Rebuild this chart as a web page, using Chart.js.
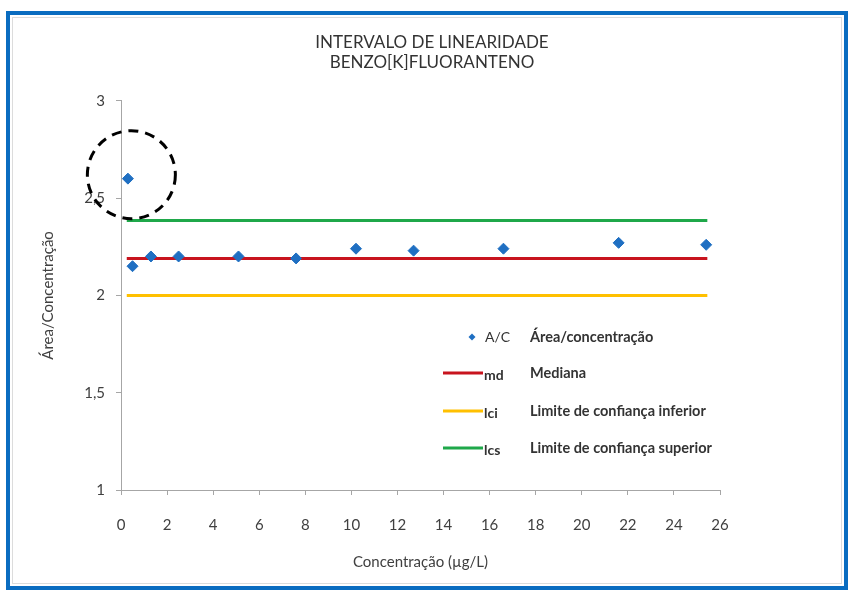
<!DOCTYPE html>
<html>
<head>
<meta charset="utf-8">
<script src="https://cdn.jsdelivr.net/npm/chart.js@4.4.0/dist/chart.umd.min.js"></script>
<style>
  body { margin: 0; background: #fff; }
  #wrap { position: absolute; left: 0; top: 0; width: 853px; height: 595px; }
  #frame { position: absolute; left: 6px; top: 11px; width: 834px; height: 571px;
           border: 4px solid #0a6cc0; pointer-events: none; }
  #inner { position: absolute; left: 2px; top: 2px; right: 2px; bottom: 2px;
           border: 1px solid #dcdcdc; }
</style>
</head>
<body>
<div id="wrap">
  <canvas id="chart" width="853" height="595"></canvas>
  <div id="frame"><div id="inner"></div></div>
</div>
<script>

// data
var concentracao = [0.3, 0.5, 1.3, 2.5, 5.1, 7.6, 10.2, 12.7, 16.6, 21.6, 25.4];
var areaConc = [2.60, 2.15, 2.20, 2.20, 2.20, 2.19, 2.24, 2.23, 2.24, 2.27, 2.26];
var limitesX = [0.25, 25.45];
var mediana = [2.19, 2.19];
var lci = [2.0, 2.0];
var lcs = [2.385, 2.385];

var yTickLabels = ["1", "1,5", "2", "2,5", "3"];
var xTickLabels = ["0", "2", "4", "6", "8", "10", "12", "14", "16", "18", "20", "22", "24", "26"];

var legendKeys = ["A/C", "md", "lci", "lcs"];
var legendNames = ["Área/concentração", "Mediana", "Limite de confiança inferior", "Limite de confiança superior"];

// dashed circle around the outlier (data coords)
var destaque = {x: 0.45, y: 2.62};

var FONT = "Lato, 'Liberation Sans', sans-serif";

function pts(xs, ys){
    return xs.map(function(x, i){ return {x: x, y: ys[i]}; });
}

var legendPlugin = {
    id: "legendaInterna",
    afterDraw: function(chart){
        var ctx = chart.ctx;
        var ds = chart.data.datasets;
        var rows = [337, 373, 411, 448];
        ctx.save();
        for (var i = 0; i < legendKeys.length; i++){
            var y = rows[i];
            var d = ds[i];
            if (i == 0){
                ctx.fillStyle = d.backgroundColor;
                ctx.beginPath();
                ctx.moveTo(472, y - 3.5);
                ctx.lineTo(475.5, y);
                ctx.lineTo(472, y + 3.5);
                ctx.lineTo(468.5, y);
                ctx.closePath();
                ctx.fill();
            } else {
                ctx.strokeStyle = d.borderColor;
                ctx.lineWidth = 3;
                ctx.beginPath();
                ctx.moveTo(443, y);
                ctx.lineTo(483, y);
                ctx.stroke();
            }
            ctx.fillStyle = "#333";
            ctx.font = (i == 0 ? "" : "bold ") + "14px " + FONT;
            ctx.textBaseline = "middle";
            ctx.fillText(legendKeys[i], i == 0 ? 485 : 484, y + (i == 0 ? 0 : 2));
            ctx.font = "bold 14.5px " + FONT;
            ctx.fillText(legendNames[i], 530, y);
        }
        // dashed circle
        var cx = chart.scales.x.getPixelForValue(destaque.x);
        var cy = chart.scales.y.getPixelForValue(destaque.y);
        ctx.strokeStyle = "#000";
        ctx.lineWidth = 3;
        ctx.setLineDash([10, 7]);
        ctx.beginPath();
        ctx.arc(cx, cy, 44, 0, Math.PI * 2);
        ctx.stroke();
        ctx.restore();
    }
};

function draw_chart(){
    new Chart("chart", {
        type: "scatter",
        data: {
            datasets: [{
                label: "A/C",
                data: pts(concentracao, areaConc),
                backgroundColor: "#1f6fc2",
                borderColor: "#1f6fc2",
                pointStyle: "rectRot",
                pointRadius: 5.5,
                order: 0
            }, {
                label: "md",
                data: pts(limitesX, mediana),
                showLine: true,
                borderColor: "#c8141e",
                borderWidth: 3,
                pointRadius: 0,
                order: 1
            }, {
                label: "lci",
                data: pts(limitesX, lci),
                showLine: true,
                borderColor: "#ffc000",
                borderWidth: 3,
                pointRadius: 0,
                order: 1
            }, {
                label: "lcs",
                data: pts(limitesX, lcs),
                showLine: true,
                borderColor: "#1fa84a",
                borderWidth: 3,
                pointRadius: 0,
                order: 1
            }]
        },
        options: {
            responsive: false,
            animation: false,
            layout: {padding: {left: 30, right: 19, top: 0, bottom: 25}},
            plugins: {
                legend: {display: false},
                tooltip: {enabled: false},
                title: {
                    display: true,
                    text: ["INTERVALO DE LINEARIDADE", "BENZO[K]FLUORANTENO"],
                    color: "#333",
                    font: {family: FONT, size: 17, weight: "normal", lineHeight: 1.2},
                    padding: {top: 32, bottom: 28}
                }
            },
            scales: {
                x: {
                    type: "linear",
                    min: 0, max: 26,
                    ticks: {
                        stepSize: 2,
                        color: "#404040",
                        padding: 21,
                        font: {family: FONT, size: 15},
                        callback: function(v, i){ return xTickLabels[i]; }
                    },
                    grid: {drawOnChartArea: false, tickLength: 5, color: "#a6a6a6"},
                    border: {color: "#a6a6a6", width: 1},
                    title: {
                        display: true,
                        text: "Concentração (µg/L)",
                        color: "#404040",
                        font: {family: FONT, size: 15, lineHeight: 1},
                        padding: {top: 0, bottom: 0}
                    }
                },
                y: {
                    min: 1, max: 3,
                    ticks: {
                        stepSize: 0.5,
                        color: "#404040",
                        padding: 11,
                        font: {family: FONT, size: 15},
                        callback: function(v, i){ return yTickLabels[i]; }
                    },
                    grid: {drawOnChartArea: false, tickLength: 5, color: "#a6a6a6"},
                    border: {color: "#a6a6a6", width: 1},
                    title: {
                        display: true,
                        text: "Área/Concentração",
                        color: "#404040",
                        font: {family: FONT, size: 15},
                        padding: {top: 9, bottom: 0}
                    },
                    afterFit: function(scale){ scale.width = 91; }
                },
                // empty right-hand box so the plot stops at x=26 while the title stays centred
                espaco: {
                    type: "linear",
                    position: "right",
                    display: true,
                    ticks: {display: false},
                    grid: {display: false},
                    border: {display: false},
                    afterFit: function(scale){ scale.width = 114; }
                }
            }
        },
        plugins: [legendPlugin]
    });
}

function main(){
    draw_chart();
}

main();
</script>
</body>
</html>
